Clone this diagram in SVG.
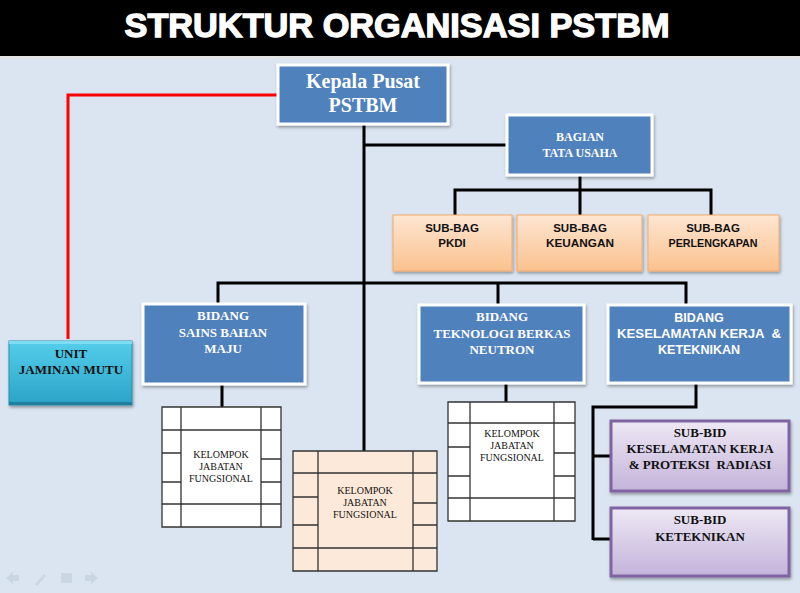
<svg xmlns="http://www.w3.org/2000/svg" width="800" height="593" viewBox="0 0 800 593">
<defs>
<linearGradient id="gPeach" x1="0" y1="0" x2="0" y2="1"><stop offset="0" stop-color="#FDE6D2"/><stop offset="1" stop-color="#FBC18E"/></linearGradient>
<linearGradient id="gPurple" x1="0" y1="0" x2="0" y2="1"><stop offset="0" stop-color="#EEE8F4"/><stop offset="1" stop-color="#C3B3DA"/></linearGradient>
<linearGradient id="gTeal" x1="0" y1="0" x2="0" y2="1"><stop offset="0" stop-color="#55CDEB"/><stop offset="1" stop-color="#2AA3C6"/></linearGradient>
<filter id="sh" x="-10%" y="-10%" width="130%" height="140%"><feDropShadow dx="1" dy="2" stdDeviation="1.5" flood-color="#000" flood-opacity="0.35"/></filter>
<style>
.blue{fill:#4F81BD;stroke:#FFFFFF;stroke-width:3;filter:url(#sh)}
.peach{fill:url(#gPeach);stroke:#F6A96B;stroke-width:1;filter:url(#sh)}
.purple{fill:url(#gPurple);stroke:#8064A2;stroke-width:3;filter:url(#sh)}
.grid{stroke:#333333;stroke-width:1.3;fill:none}
.conn{fill:none;stroke:#000000;stroke-width:3;stroke-linejoin:miter}
.wserif{font-family:"Liberation Serif","Times New Roman",serif;font-weight:bold;fill:#FFFFFF;text-anchor:middle}
.bserif{font-family:"Liberation Serif","Times New Roman",serif;font-weight:bold;fill:#111111;text-anchor:middle;font-size:13px}
.bsans{font-family:"Liberation Sans",Arial,sans-serif;font-weight:bold;fill:#111111;text-anchor:middle;font-size:11.5px}
.kjf{font-family:"Liberation Serif","Times New Roman",serif;fill:#111111;text-anchor:middle;font-size:10px}
</style>
</defs>
<rect x="0" y="0" width="800" height="593" fill="#DBE5F1"/>
<g id="title">
<rect x="0" y="0" width="800" height="56" fill="#000000"/>
<rect x="0" y="56" width="800" height="3" fill="#E4E4E4"/>
<text x="397" y="37" font-family="'Liberation Sans',Arial,sans-serif" font-weight="bold" font-size="33" fill="#FFFFFF" stroke="#FFFFFF" stroke-width="1.3" text-anchor="middle" textLength="545" lengthAdjust="spacingAndGlyphs">STRUKTUR ORGANISASI PSTBM</text>
</g>
<g id="connectors">
<polyline points="277,95 68,95 68,339" fill="none" stroke="#FF0000" stroke-width="3"/>
<line class="conn" x1="364" y1="125" x2="364" y2="451"/>
<line class="conn" x1="364" y1="145" x2="507" y2="145"/>
<line class="conn" x1="580" y1="176" x2="580" y2="215"/>
<polyline class="conn" points="455,215 455,190 711,190 711,215"/>
<polyline class="conn" points="218,303 218,283 686,283 686,304"/>
<line class="conn" x1="498" y1="283" x2="498" y2="304"/>
<line class="conn" x1="222" y1="385" x2="222" y2="407"/>
<line class="conn" x1="506" y1="384" x2="506" y2="402"/>
<polyline class="conn" points="696,384 696,407 593,407 593,540"/>
<line class="conn" x1="593" y1="456" x2="610" y2="456"/>
<line class="conn" x1="593" y1="539" x2="610" y2="539"/>
</g>
<g id="kepala">
<rect class="blue" x="278" y="65" width="170" height="59"/>
<text class="wserif" x="363" y="88" font-size="20">Kepala Pusat</text>
<text class="wserif" x="363" y="112" font-size="20">PSTBM</text>
</g>
<g id="bagian">
<rect class="blue" x="507" y="115" width="145" height="60"/>
<text class="wserif" x="580" y="141" font-size="12">BAGIAN</text>
<text class="wserif" x="580" y="157" font-size="12">TATA USAHA</text>
</g>
<g id="subbag-pkdi">
<rect class="peach" x="393" y="215" width="119" height="56"/>
<text class="bsans" x="452" y="232">SUB-BAG</text>
<text class="bsans" x="452" y="247">PKDI</text>
</g>
<g id="subbag-keuangan">
<rect class="peach" x="517" y="215" width="125" height="56"/>
<text class="bsans" x="580" y="232">SUB-BAG</text>
<text class="bsans" x="580" y="247" textLength="68" lengthAdjust="spacingAndGlyphs">KEUANGAN</text>
</g>
<g id="subbag-perlengkapan">
<rect class="peach" x="648" y="215" width="131" height="56"/>
<text class="bsans" x="713" y="232">SUB-BAG</text>
<text class="bsans" x="713" y="247" textLength="89" lengthAdjust="spacingAndGlyphs">PERLENGKAPAN</text>
</g>
<g id="unit-jaminan-mutu">
<rect x="9" y="341" width="123" height="64" fill="url(#gTeal)" stroke="#2A8FAE" stroke-width="1" filter="url(#sh)"/>
<rect x="9" y="341" width="123" height="3" fill="#7FDDF3"/>
<rect x="9" y="402" width="123" height="3" fill="#1F7F9C"/>
<text class="bserif" x="71" y="358">UNIT</text>
<text class="bserif" x="71" y="374">JAMINAN MUTU</text>
</g>
<g id="bidang-sains">
<rect class="blue" x="143" y="304" width="162" height="80"/>
<text class="wserif" x="223" y="320" font-size="13">BIDANG</text>
<text class="wserif" x="223" y="337" font-size="13">SAINS BAHAN</text>
<text class="wserif" x="223" y="353" font-size="13">MAJU</text>
</g>
<g id="bidang-teknologi">
<rect class="blue" x="419" y="305" width="165" height="78"/>
<text class="wserif" x="502" y="321" font-size="13">BIDANG</text>
<text class="wserif" x="502" y="338" font-size="13" textLength="137" lengthAdjust="spacingAndGlyphs">TEKNOLOGI BERKAS</text>
<text class="wserif" x="502" y="354" font-size="13">NEUTRON</text>
</g>
<g id="bidang-keselamatan">
<rect class="blue" x="608" y="305" width="183" height="78"/>
<text x="699" y="322" font-family="'Liberation Sans',Arial,sans-serif" font-weight="bold" font-size="12.5" fill="#FFFFFF" text-anchor="middle">BIDANG</text>
<text x="699" y="338" font-family="'Liberation Sans',Arial,sans-serif" font-weight="bold" font-size="12.5" fill="#FFFFFF" text-anchor="middle" textLength="164" lengthAdjust="spacingAndGlyphs" xml:space="preserve">KESELAMATAN KERJA  &amp;</text>
<text x="699" y="354" font-family="'Liberation Sans',Arial,sans-serif" font-weight="bold" font-size="12.5" fill="#FFFFFF" text-anchor="middle">KETEKNIKAN</text>
</g>
<g id="subbid-keselamatan">
<rect class="purple" x="611" y="421" width="178" height="70"/>
<text class="bserif" x="700" y="437">SUB-BID</text>
<text class="bserif" x="700" y="453">KESELAMATAN KERJA</text>
<text class="bserif" x="700" y="469" xml:space="preserve">&amp; PROTEKSI  RADIASI</text>
</g>
<g id="subbid-keteknikan">
<rect class="purple" x="611" y="508" width="178" height="68"/>
<text class="bserif" x="700" y="524">SUB-BID</text>
<text class="bserif" x="700" y="541">KETEKNIKAN</text>
</g>
<g id="kjf-sains">
<rect x="162" y="407" width="119" height="120" fill="#FFFFFF"/>
<path class="grid" d="M162,407H281V527H162Z M181,407V527 M261,407V527 M162,430H281 M162,504H281 M162,453H181 M162,482H181 M261,459H281 M261,482H281"/>
<text class="kjf" x="221" y="458">KELOMPOK</text>
<text class="kjf" x="221" y="470">JABATAN</text>
<text class="kjf" x="221" y="482">FUNGSIONAL</text>
</g>
<g id="kjf-pusat">
<rect x="293" y="451" width="144" height="120" fill="#FDE9D9"/>
<path class="grid" d="M293,451H437V571H293Z M318,451V571 M413,451V571 M293,473H437 M293,548H437 M293,497H318 M293,525H318 M413,503H437 M413,525H437"/>
<text class="kjf" x="365" y="494" font-size="10.5">KELOMPOK</text>
<text class="kjf" x="365" y="506" font-size="10.5">JABATAN</text>
<text class="kjf" x="365" y="518" font-size="10.5">FUNGSIONAL</text>
</g>
<g id="kjf-teknologi">
<rect x="448" y="402" width="127" height="119" fill="#FFFFFF"/>
<path class="grid" d="M448,402H575V521H448Z M470,402V521 M554,402V521 M448,423H575 M448,498H575 M448,447H470 M448,476H470 M554,453H575 M554,476H575"/>
<text class="kjf" x="512" y="437">KELOMPOK</text>
<text class="kjf" x="512" y="449">JABATAN</text>
<text class="kjf" x="512" y="461">FUNGSIONAL</text>
</g>
<g id="slide-controls" fill="#C9D5E3" stroke="none" opacity="0.9">
<path d="M6,578 L13,572 V575 H19 V581 H13 V584 Z"/>
<path d="M35,584 L44,574 L46,576 L37,586 Z"/>
<rect x="61" y="573" width="11" height="10"/>
<path d="M98,578 L91,572 V575 H85 V581 H91 V584 Z"/>
</g>
</svg>
